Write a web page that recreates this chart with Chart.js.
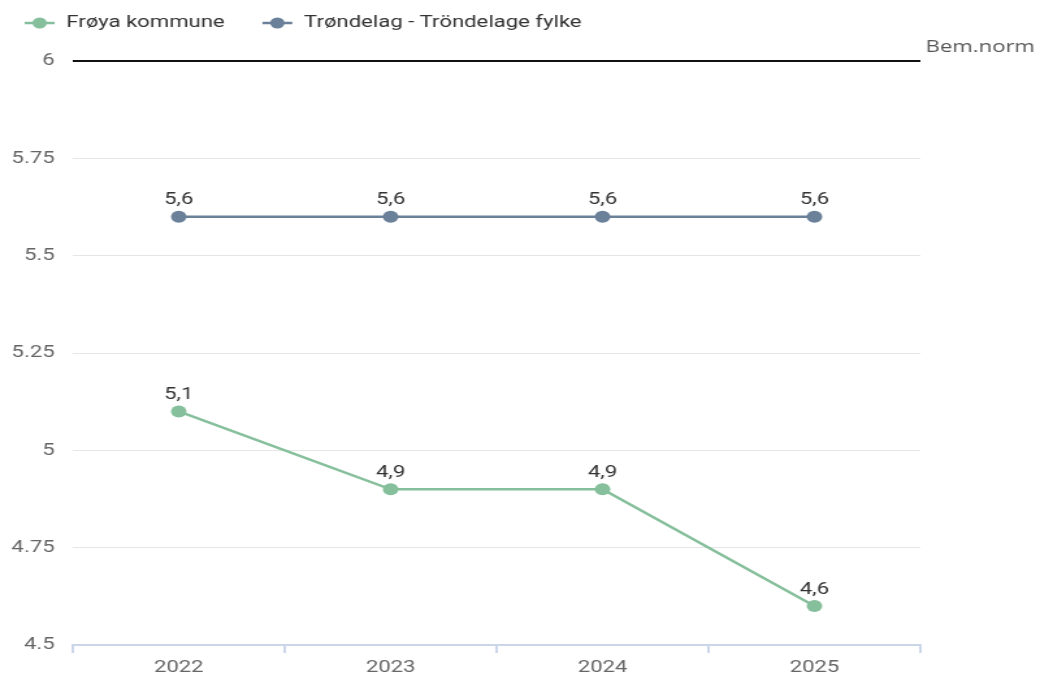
<!DOCTYPE html>
<html>
<head>
<meta charset="utf-8">
<script src="https://cdn.jsdelivr.net/npm/chart.js@4"></script>
<style>
  html, body { margin: 0; padding: 0; background: #fff; overflow: hidden; }
  /* the reference picture is stretched sideways, so the chart is drawn narrower and widened */
  #wrap { width: 798px; height: 678px; transform: scaleX(1.3); transform-origin: 0 0; }
</style>
</head>
<body>
<div id="wrap"><canvas id="chart" width="798" height="678"></canvas></div>
<script>
// data
const years = ['2022', '2023', '2024', '2025'];
const froya = [5.1, 4.9, 4.9, 4.6];
const trondelag = [5.6, 5.6, 5.6, 5.6];
const seriesNames = ['Frøya kommune', 'Trøndelag - Tröndelage fylke'];
const seriesColors = ['#86bf9b', '#6b8199'];
const normValue = 6;
const normLabel = 'Bem.norm';

const FONT = 'Roboto, "Noto Sans", sans-serif';

// value labels above each point, comma decimal
const valueLabels = {
    id: 'valueLabels',
    afterDatasetsDraw(chart) {
        const ctx = chart.ctx;
        ctx.save();
        ctx.font = '17px ' + FONT;
        ctx.fillStyle = '#333';
        ctx.textAlign = 'center';
        ctx.textBaseline = 'bottom';
        chart.data.datasets.forEach((ds, i) => {
            chart.getDatasetMeta(i).data.forEach((pt, j) => {
                const txt = String(ds.data[j]).replace('.', ',');
                ctx.fillText(txt, pt.x, pt.y - 8);
            });
        });
        ctx.restore();
    }
};

// black norm line + label, and the legend on top
const extras = {
    id: 'extras',
    beforeDatasetsDraw(chart) {
        const ctx = chart.ctx;
        const y = chart.scales.y.getPixelForValue(normValue);
        const a = chart.chartArea;
        ctx.save();
        ctx.strokeStyle = '#111';
        ctx.lineWidth = 2;
        ctx.beginPath();
        ctx.moveTo(a.left, y);
        ctx.lineTo(a.right, y);
        ctx.stroke();
        ctx.font = '17px "Open Sans", sans-serif';
        ctx.fillStyle = '#555';
        ctx.textAlign = 'left';
        ctx.textBaseline = 'middle';
        ctx.fillText(normLabel, a.right + 4, y - 14);
        ctx.restore();
    },
    afterDraw(chart) {
        const ctx = chart.ctx;
        ctx.save();
        ctx.font = '17px ' + FONT;
        ctx.textBaseline = 'middle';
        ctx.textAlign = 'left';
        let x = 19;
        const y = 23;
        chart.data.datasets.forEach(ds => {
            ctx.strokeStyle = ds.borderColor;
            ctx.lineWidth = 2.5;
            ctx.beginPath();
            ctx.moveTo(x, y);
            ctx.lineTo(x + 23, y);
            ctx.stroke();
            ctx.fillStyle = ds.borderColor;
            ctx.beginPath();
            ctx.arc(x + 11.5, y, 5.5, 0, Math.PI * 2);
            ctx.fill();
            ctx.fillStyle = '#333';
            ctx.fillText(ds.label, x + 32, y);
            x += 32 + ctx.measureText(ds.label).width + 29;
        });
        ctx.restore();
    }
};

new Chart(document.getElementById('chart'), {
    type: 'line',
    data: {
        labels: years,
        datasets: [
            { label: seriesNames[0], data: froya, borderColor: seriesColors[0], backgroundColor: seriesColors[0] },
            { label: seriesNames[1], data: trondelag, borderColor: seriesColors[1], backgroundColor: seriesColors[1] }
        ].map(d => Object.assign(d, {
            borderWidth: 2.5,
            pointRadius: 6,
            pointHoverRadius: 6,
            pointBorderWidth: 0,
            tension: 0,
            fill: false
        }))
    },
    options: {
        responsive: false,
        animation: false,
        layout: { padding: { top: 61, right: 90, left: 0, bottom: 0 } },
        plugins: {
            legend: { display: false },
            tooltip: { enabled: false }
        },
        scales: {
            x: {
                offset: true,
                grid: { offset: true, drawOnChartArea: false, drawTicks: true, tickLength: 8, color: '#ccd6eb', lineWidth: 2 },
                border: { color: '#ccd6eb', width: 2 },
                ticks: { color: '#666', font: { family: FONT, size: 17 }, padding: 5 },
                afterFit(s) { s.height = 33; }
            },
            y: {
                min: 4.5,
                max: 6,
                grid: { color: '#e6e6e6', lineWidth: 1, drawTicks: false },
                border: { display: false },
                ticks: {
                    stepSize: 0.25,
                    color: '#666',
                    font: { family: FONT, size: 17 },
                    padding: 14,
                    callback: v => String(v)
                },
                afterFit(s) { s.width = 56; }
            }
        }
    },
    plugins: [extras, valueLabels]
});
</script>
</body>
</html>
